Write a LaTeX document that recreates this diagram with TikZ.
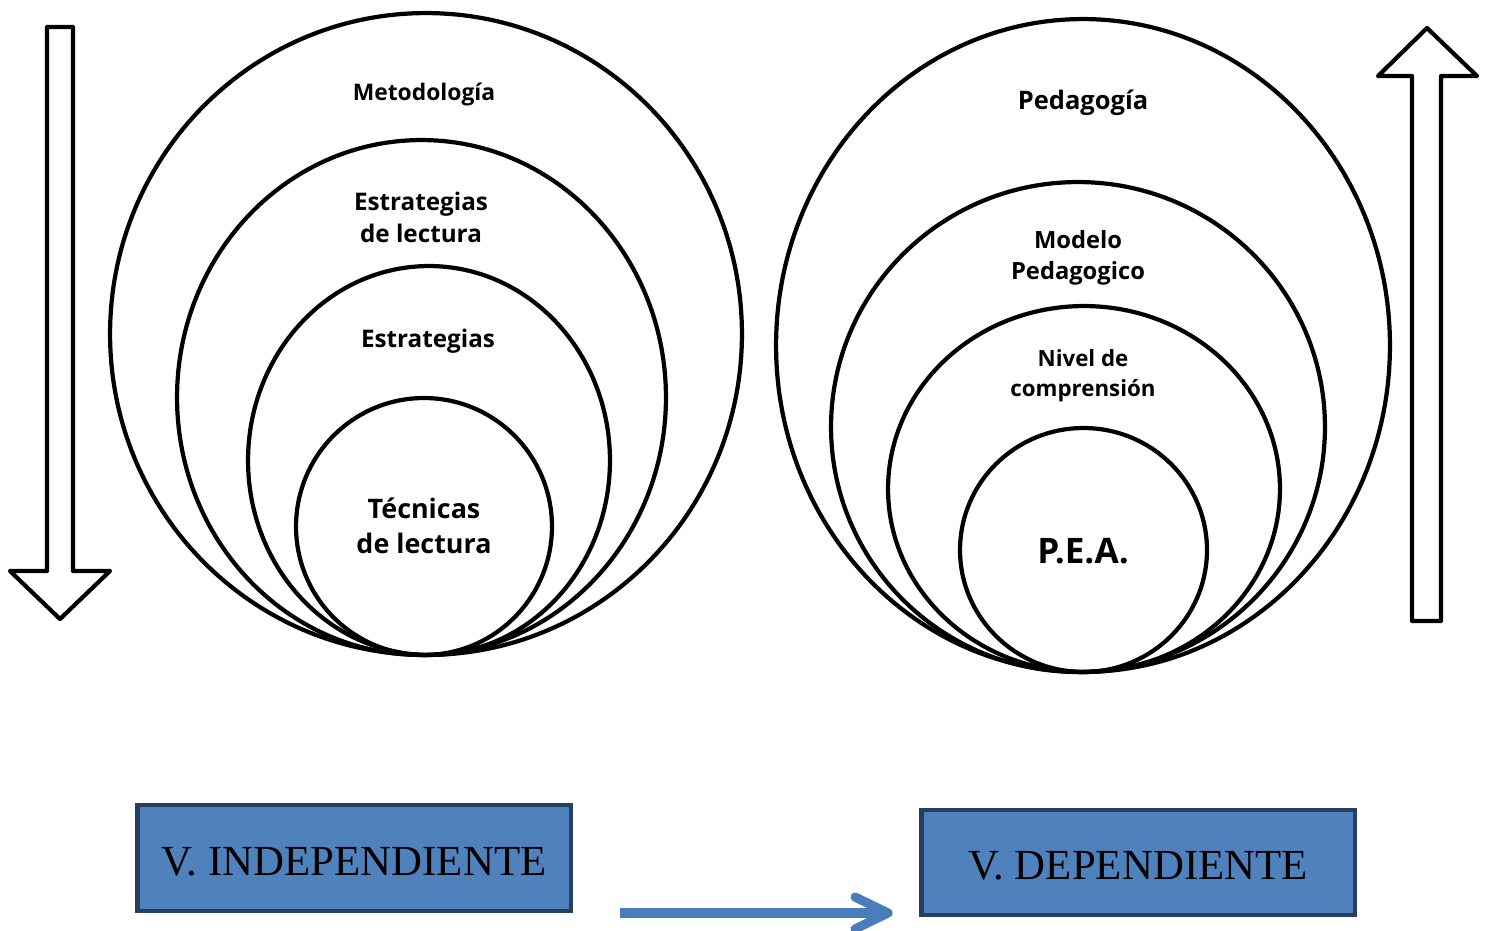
\documentclass[tikz,border=0pt]{standalone}
\usepackage{fontspec}
\setmainfont{Open Sans}
\newfontfamily\tnr{Liberation Serif}
\usetikzlibrary{shapes.geometric,calc}
\definecolor{boxfill}{HTML}{4F81BD}
\definecolor{boxline}{HTML}{243F60}
\definecolor{arrblue}{HTML}{4A7EBB}
\tikzset{
  ring/.style={ellipse, draw=black, line width=2.4pt, inner sep=0pt, outer sep=0pt},
  lbl/.style={align=center, font=\bfseries, inner sep=0pt},
  hollow/.style={draw=black, line width=2.4pt, line join=round, fill=white},
  varbox/.style={rectangle, draw=boxline, fill=boxfill, line width=2.8pt, inner sep=0pt, text height=19.5pt, text depth=0pt, font=\tnr\fontsize{24.4}{28}\selectfont},
  link/.style={draw=arrblue, line width=5.2pt, line cap=round, line join=round}
}
\begin{document}
\begin{tikzpicture}[x=0.02cm, y=-0.02cm]
\useasboundingbox (0,0) rectangle (1487,930);
% left circles
\node[ring, minimum width=12.64cm, minimum height=12.84cm] (l1) at (426,334) {};
\node[ring, minimum width=9.78cm, minimum height=10.30cm] (l2) at (421.5,397.5) {};
\node[ring, minimum width=7.24cm, minimum height=7.78cm] (l3) at (429,460.5) {};
\node[ring, minimum width=5.12cm, minimum height=5.14cm] (l4) at (424,526.5) {};
\node[lbl, font=\bfseries\fontsize{13}{16}\selectfont] (t1) at (424,94) {Metodología};
\node[lbl, font=\bfseries\fontsize{13.8}{18.2}\selectfont] (t2) at (421,217) {Estrategias\\de lectura};
\node[lbl, font=\bfseries\fontsize{13.8}{18.2}\selectfont] (t3) at (428,341) {Estrategias};
\node[lbl, font=\bfseries\fontsize{15.3}{19.9}\selectfont] (t4) at (424,526) {Técnicas\\de lectura};
% right circles
\node[ring, minimum width=12.28cm, minimum height=13.06cm] (r1) at (1083,345.5) {};
\node[ring, minimum width=9.88cm, minimum height=9.80cm] (r2) at (1078,427) {};
\node[ring, minimum width=7.84cm, minimum height=7.32cm] (r3) at (1084,489) {};
\node[ring, minimum width=4.94cm, minimum height=4.88cm] (r4) at (1083.5,550) {};
\node[lbl, font=\bfseries\fontsize{14.5}{17}\selectfont] (s1) at (1083,103) {Pedagogía};
\node[lbl, font=\bfseries\fontsize{13.5}{17.6}\selectfont] (s2) at (1078,258) {Modelo\\Pedagogico};
\node[lbl, font=\bfseries\fontsize{12.7}{17}\selectfont] (s3) at (1083,376) {Nivel de\\comprensión};
\node[lbl, font=\bfseries\fontsize{20}{24}\selectfont] (s4) at (1083,551) {P.E.A.};
% hollow block arrows
\path[hollow] (47,27) -- (73,27) -- (73,571) -- (110,571) -- (60,619) -- (10,571) -- (47,571) -- cycle;
\path[hollow] (1412,621) -- (1441,621) -- (1441,76) -- (1477,76) -- (1427,28) -- (1378,76) -- (1412,76) -- cycle;
% variable boxes
\node[varbox, minimum width=8.68cm, minimum height=2.12cm] (vi) at (354,858) {V. INDEPENDIENTE};
\node[varbox, minimum width=8.68cm, minimum height=2.10cm] (vd) at (1138,862.5) {V. DEPENDIENTE};
% blue connector
\coordinate (as) at (620,913);
\coordinate (ae) at (888,913);
\draw[link, line cap=butt] (as) -- (ae);
\draw[link] ($(ae)+(-33,-16)$) -- (ae) -- ($(ae)+(-33,16)$);
\end{tikzpicture}
\end{document}
